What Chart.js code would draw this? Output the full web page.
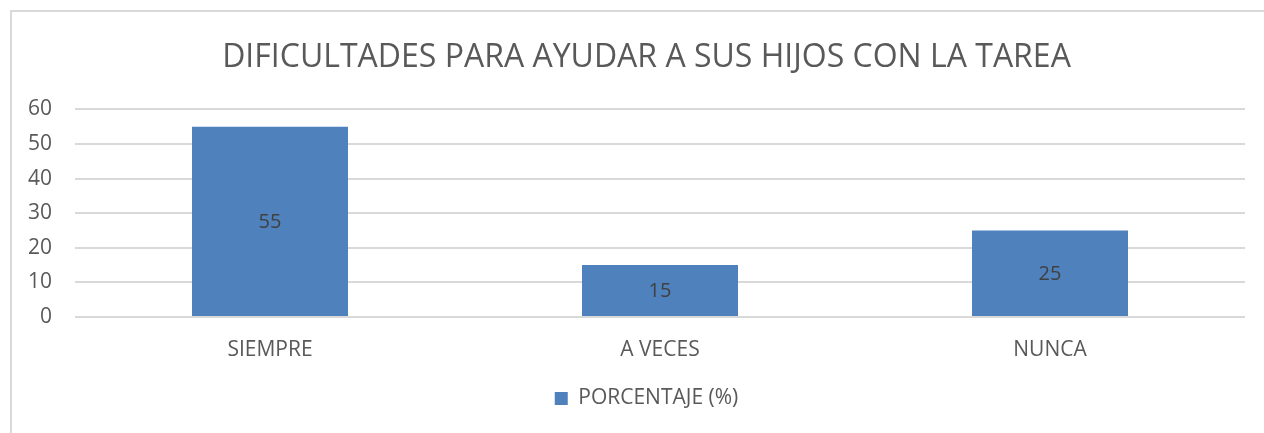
<!DOCTYPE html>
<html><head><meta charset="utf-8">
<script src="https://cdn.jsdelivr.net/npm/chart.js@4/dist/chart.umd.min.js"></script>
<style>
html,body{margin:0;padding:0;background:#fff;overflow:hidden}
#wrap{position:absolute;left:0;top:0;width:1264px;height:433px}
#frame{position:absolute;left:10px;top:10px;width:1300px;height:500px;border-left:2px solid #d9d9d9;border-top:2px solid #d9d9d9;pointer-events:none}
</style></head>
<body>
<div id="wrap"><canvas id="c" width="1264" height="433"></canvas></div>
<div id="frame"></div>
<script>
const categories = ["SIEMPRE", "A VECES", "NUNCA"];
const seriesName = "PORCENTAJE (%)";
const values = [55, 15, 25];
const chartTitle = "DIFICULTADES PARA AYUDAR A SUS HIJOS CON LA TAREA";
const yMin = 0, yMax = 60, yStep = 10;

const FONT = "'Open Sans', 'Liberation Sans', sans-serif";
const TXT = "#595959";

const dataLabels = {
  id: "dataLabels",
  afterDatasetsDraw(chart) {
    const ctx = chart.ctx;
    ctx.save();
    ctx.font = "20px " + FONT;
    ctx.fillStyle = "#404040";
    ctx.textAlign = "center";
    ctx.textBaseline = "middle";
    chart.getDatasetMeta(0).data.forEach((bar, i) => {
      ctx.fillText(String(values[i]), bar.x, (bar.y + bar.base) / 2 + 1);
    });
    ctx.restore();
  }
};

// The original chart frame extends past the right edge, so title and legend are centred a little right.
const centreShift = {
  id: "centreShift",
  afterLayout(chart) {
    const d = 24;
    [chart.titleBlock, chart.legend].forEach(b => {
      if (b) { b.left += d; b.right += d; }
    });
  }
};

new Chart(document.getElementById("c"), {
  type: "bar",
  data: {
    labels: categories,
    datasets: [{
      label: seriesName,
      data: values,
      backgroundColor: "#4f81bd",
      borderWidth: 0,
      categoryPercentage: 1,
      barPercentage: 0.4
    }]
  },
  options: {
    responsive: false,
    animation: false,
    devicePixelRatio: 1,
    layout: { padding: { left: 0, right: 19, top: 0, bottom: 14 } },
    plugins: {
      title: {
        display: true,
        text: chartTitle,
        color: TXT,
        font: { family: FONT, size: 32, weight: "normal" },
        padding: { top: 39, bottom: 32 }
      },
      legend: {
        position: "bottom",
        labels: {
          color: TXT,
          font: { family: FONT, size: 21 },
          boxWidth: 13, boxHeight: 13,
          padding: 12
        }
      },
      tooltip: { enabled: false }
    },
    scales: {
      x: {
        grid: { display: false, drawTicks: false },
        border: { display: false },
        ticks: { color: TXT, font: { family: FONT, size: 21 }, padding: 20 },
        afterFit(s) { s.height = 59; }
      },
      y: {
        min: yMin, max: yMax,
        ticks: { stepSize: yStep, color: TXT, font: { family: FONT, size: 21 }, padding: 23 },
        grid: { color: "#d9d9d9", lineWidth: 2, drawTicks: false },
        border: { display: false },
        afterFit(s) { s.width = 75; }
      }
    }
  },
  plugins: [dataLabels, centreShift]
});
</script>
</body></html>
